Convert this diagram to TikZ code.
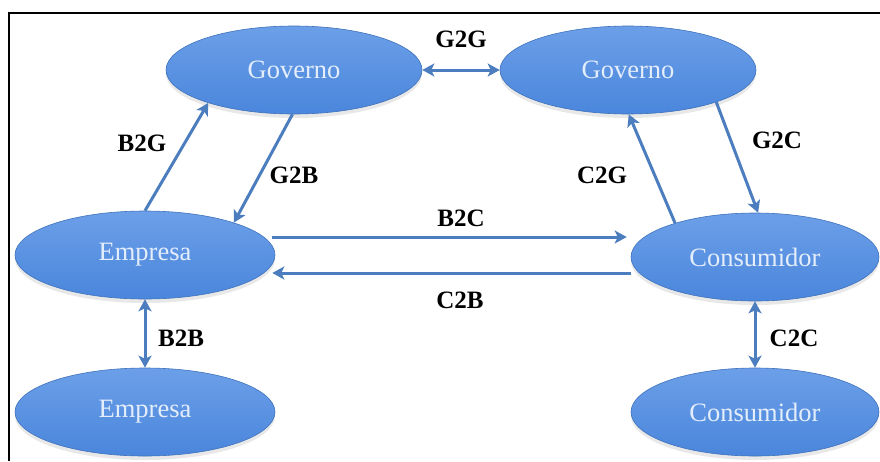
\documentclass[tikz,border=0pt]{standalone}
\usepackage{fontspec}
\setmainfont{Liberation Serif}
\usetikzlibrary{shapes.geometric,arrows.meta,shadows}
\definecolor{ellTop}{HTML}{6C9FE8}
\definecolor{ellBot}{HTML}{4A86DC}
\definecolor{ellTxt}{HTML}{E4EEFB}
\definecolor{arr}{HTML}{4C7DBE}
\tikzset{
  entity/.style={ellipse, minimum width=256pt, minimum height=88pt, inner sep=0pt,
    top color=ellTop, bottom color=ellBot, draw=ellBot!85!black, line width=0.6pt,
    drop shadow={opacity=0.18, shadow xshift=0pt, shadow yshift=-4pt},
    text=ellTxt, font=\fontsize{26.5}{30}\selectfont},
  conn/.style={draw=arr, line width=3pt, -{Stealth[length=12pt,width=13pt,inset=3pt]}},
  bconn/.style={draw=arr, line width=3pt, {Stealth[length=12pt,width=13pt,inset=3pt]}-{Stealth[length=12pt,width=13pt,inset=3pt]}},
  lbl/.style={font=\fontsize{25}{28}\selectfont\bfseries, text=black, inner sep=0pt},
}
\begin{document}
\begin{tikzpicture}[x=1pt,y=-1pt]
\useasboundingbox (0,0) rectangle (880,461);
\fill[white] (0,0) rectangle (880,461);
\draw[line width=2pt, black] (9,461) -- (9,13) -- (880,13);

\node[entity] (gL) at (294,70) {Governo};
\node[entity] (gR) at (628,70) {Governo};
\node[entity, minimum width=260pt] (eT) at (145,255) {Empresa};
\node[entity, minimum width=260pt] (eB) at (145,412) {Empresa};
\node[entity, minimum width=248pt] (cT) at (755,257) {Consumidor};
\node[entity, minimum width=248pt] (cB) at (755,412) {Consumidor};

\draw[bconn] (gL.east) -- (gR.west);
\draw[conn] (eT.north) -- (gL.201);
\draw[conn] (gL.268) -- (eT.20);
\draw[conn] (cT.157) -- (gR.271);
\draw[conn] (gR.340) -- (cT.86);
\draw[conn] ([xshift=-3pt,yshift=18pt]eT.east) -- ([xshift=-4pt,yshift=20pt]cT.west);
\draw[conn] ([yshift=-16pt]cT.west) -- ([xshift=-3pt,yshift=-18pt]eT.east);
\draw[bconn] (eT.south) -- (eB.north);
\draw[bconn] (cT.south) -- (cB.north);

\node[lbl] (lG2G) at (461,39) {G2G};
\node[lbl] (lB2G) at (142,143) {B2G};
\node[lbl] (lG2B) at (294,175) {G2B};
\node[lbl] (lC2G) at (602,175) {C2G};
\node[lbl] (lG2C) at (777,140) {G2C};
\node[lbl] (lB2C) at (461,218) {B2C};
\node[lbl] (lC2B) at (460,300) {C2B};
\node[lbl] (lB2B) at (181,338) {B2B};
\node[lbl] (lC2C) at (794,338) {C2C};
\end{tikzpicture}
\end{document}
